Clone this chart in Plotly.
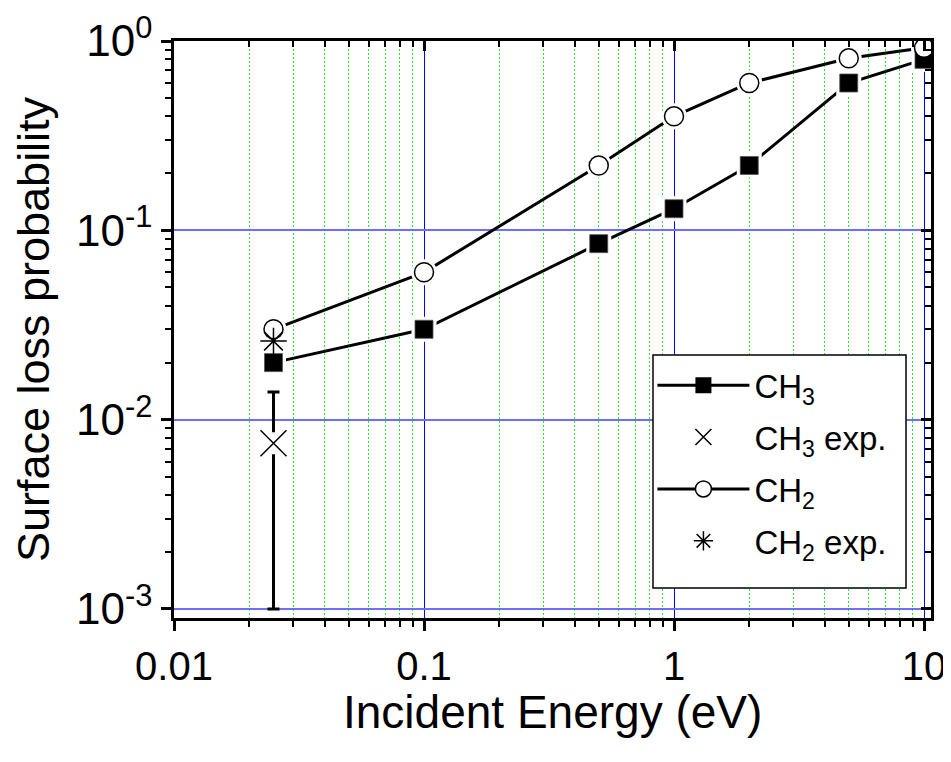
import plotly.graph_objects as go

# ---- data ----
energy = [0.025, 0.1, 0.5, 1, 2, 5, 10]
ch3_sim = [0.02, 0.03, 0.085, 0.13, 0.22, 0.6, 0.8]
ch2_sim = [0.03, 0.06, 0.22, 0.40, 0.60, 0.81, 0.92]

exp_energy = [0.025]
ch3_exp = [0.0075]
ch3_exp_err = [0.0065]
ch2_exp = [0.026]

x_tickvals = [0.01, 0.1, 1, 10]
x_ticktext = ["0.01", "0.1", "1", "10"]
y_tickvals = [0.001, 0.01, 0.1, 1]
y_ticktext = ["10<sup>-3</sup>", "10<sup>-2</sup>", "10<sup>-1</sup>", "10<sup>0</sup>"]

x_minor = [m * d for d in (0.01, 0.1, 1) for m in range(2, 10)]
y_minor = [m * d for d in (0.001, 0.01, 0.1) for m in range(2, 10)]

FONT = "Liberation Sans, Arial, sans-serif"
XR = [-2, 1.028]
YR = [-3.048, 0]

fig = go.Figure()

# simulated series: line + marker (legend entries)
fig.add_trace(go.Scatter(
    x=energy, y=ch3_sim, mode="lines+markers", name="CH<sub>3</sub>",
    line=dict(color="black", width=3),
    marker=dict(symbol="square", size=18, color="black"),
    legendgroup="g1", legendrank=1))
fig.add_trace(go.Scatter(
    x=energy, y=ch2_sim, mode="lines+markers", name="CH<sub>2</sub>",
    line=dict(color="black", width=3),
    marker=dict(symbol="circle", size=19, color="white",
                line=dict(color="black", width=1.5)),
    legendgroup="g3", legendrank=3))

# white halos to leave gaps between lines and markers
fig.add_trace(go.Scatter(
    x=energy, y=ch3_sim, mode="markers", showlegend=False, hoverinfo="skip",
    marker=dict(symbol="square", size=25, color="white")))
fig.add_trace(go.Scatter(
    x=energy, y=ch2_sim, mode="markers", showlegend=False, hoverinfo="skip",
    marker=dict(symbol="circle", size=26, color="white")))

# markers on top
fig.add_trace(go.Scatter(
    x=energy, y=ch3_sim, mode="markers", showlegend=False,
    marker=dict(symbol="square", size=18, color="black",
                line=dict(color="#555555", width=0.8))))
fig.add_trace(go.Scatter(
    x=energy, y=ch2_sim, mode="markers", showlegend=False,
    marker=dict(symbol="circle", size=19, color="white",
                line=dict(color="black", width=1.5))))

# CH3 experimental: error bar, halo, marker
fig.add_trace(go.Scatter(
    x=exp_energy, y=ch3_exp, mode="markers", showlegend=False, hoverinfo="skip",
    marker=dict(size=2, color="rgba(0,0,0,0)"),
    error_y=dict(type="data", array=ch3_exp_err, color="black",
                 thickness=3, width=6)))
fig.add_trace(go.Scatter(
    x=exp_energy, y=ch3_exp, mode="markers", showlegend=False, hoverinfo="skip",
    marker=dict(symbol="square", size=22, color="white")))
fig.add_trace(go.Scatter(
    x=exp_energy, y=ch3_exp, mode="markers", name="CH<sub>3</sub> exp.",
    marker=dict(symbol="x-thin-open", size=26, color="black",
                line=dict(color="black", width=1.5)),
    legendgroup="g2", legendrank=2))

# CH2 experimental
fig.add_trace(go.Scatter(
    x=exp_energy, y=ch2_exp, mode="markers", name="CH<sub>2</sub> exp.",
    marker=dict(symbol="asterisk-open", size=22, color="black",
                line=dict(color="black", width=1.5)),
    legendgroup="g4", legendrank=4))

axis_common = dict(type="log", showline=True, linecolor="black", linewidth=2.5,
                   zeroline=False, tickcolor="black", automargin=False)

# plot area in page pixels: x 174..931, y 41..618 (page has 8px body margin)
legend_box = dict(x0=(653 - 174) / 757, x1=(906 - 174) / 757,
                  y0=(618 - 588) / 577, y1=(618 - 355) / 577)

fig.update_layout(
    width=951, height=762,
    margin=dict(l=166, r=28, t=33, b=152),
    paper_bgcolor="white", plot_bgcolor="white",
    font=dict(family=FONT, color="black"),
    showlegend=True,
    legend=dict(x=0.632, y=0.452, xanchor="left", yanchor="top",
                borderwidth=0, bgcolor="rgba(0,0,0,0)",
                font=dict(family=FONT, size=33, color="black"),
                itemwidth=92, tracegroupgap=6, traceorder="grouped"),
    shapes=[dict(type="rect", xref="paper", yref="paper", layer="above",
                 fillcolor="white", line=dict(color="black", width=1.5),
                 **legend_box)],
    annotations=[dict(text="Incident Energy (eV)", xref="paper", yref="paper",
                      x=0.5, y=-0.163, xanchor="center", yanchor="middle",
                      showarrow=False, font=dict(size=46, family=FONT))],
    xaxis=dict(**axis_common, range=XR,
               tickmode="array", tickvals=x_tickvals, ticktext=x_ticktext,
               ticks="outside", ticklen=10, tickwidth=2.5,
               ticklabelstandoff=1,
               tickfont=dict(size=40, family=FONT),
               showgrid=True, gridcolor="rgb(0,0,255)", gridwidth=1.2,
               minor=dict(tickmode="array", tickvals=x_minor, ticks="outside",
                          ticklen=6, tickwidth=2, tickcolor="black",
                          showgrid=True, gridcolor="#22ee22", gridwidth=1,
                          griddash="2px,2px")),
    yaxis=dict(**axis_common, range=YR,
               tickmode="array", tickvals=y_tickvals, ticktext=y_ticktext,
               ticks="outside", ticklen=10, tickwidth=2.5,
               tickfont=dict(size=44, family=FONT),
               showgrid=True, gridcolor="#6f6fff", gridwidth=2,
               minor=dict(tickmode="array", tickvals=y_minor, ticks="outside",
                          ticklen=6, tickwidth=2, tickcolor="black",
                          showgrid=False),
               title=dict(text="Surface loss probability",
                          font=dict(size=45, family=FONT), standoff=16)),
    xaxis2=dict(**axis_common, range=XR, overlaying="x", side="top",
                tickmode="array", tickvals=x_tickvals, showticklabels=False,
                ticks="inside", ticklen=10, tickwidth=2.5, showgrid=False,
                minor=dict(tickmode="array", tickvals=x_minor, ticks="inside",
                           ticklen=6, tickwidth=2, tickcolor="black",
                           showgrid=False)),
    yaxis2=dict(**axis_common, range=YR, overlaying="y", side="right",
                tickmode="array", tickvals=y_tickvals, showticklabels=False,
                ticks="inside", ticklen=10, tickwidth=2.5, showgrid=False,
                minor=dict(tickmode="array", tickvals=y_minor, ticks="inside",
                           ticklen=6, tickwidth=2, tickcolor="black",
                           showgrid=False)),
)

# invisible trace so the mirrored axes are drawn
fig.add_trace(go.Scatter(x=[], y=[], xaxis="x2", yaxis="y2",
                         showlegend=False, hoverinfo="skip"))

fig.write_html("out.html")
